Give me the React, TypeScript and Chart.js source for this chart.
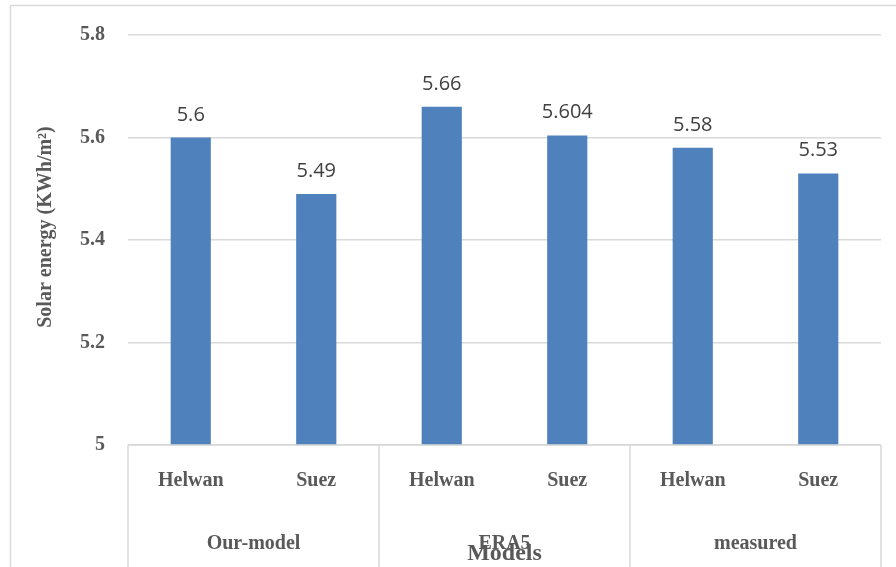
import React, { useEffect, useRef } from 'react';
import { Chart, registerables } from 'chart.js';
Chart.register(...registerables);

const categories = ['Helwan', 'Suez', 'Helwan', 'Suez', 'Helwan', 'Suez'];
const groups = ['Our-model', 'ERA5', 'measured'];
const values = [5.6, 5.49, 5.66, 5.604, 5.58, 5.53];
const valueLabels = ['5.6', '5.49', '5.66', '5.604', '5.58', '5.53'];
const yMin = 5;
const yMax = 5.8;
const yStep = 0.2;
const yTitle = 'Solar energy (KWh/m²)';
const xTitle = 'Models';

const GRAY = '#d9d9d9';
const TEXT = '#595959';
const SERIF = '"Liberation Serif", "Times New Roman", serif';

const overlay = {
  id: 'overlay',
  afterDraw(chart: any) {
    const ctx = chart.ctx as CanvasRenderingContext2D;
    const area = chart.chartArea;
    const xs = chart.scales.x;
    const H = chart.height;
    ctx.save();
    // outer frame
    ctx.strokeStyle = GRAY;
    ctx.lineWidth = 1.5;
    ctx.beginPath();
    ctx.moveTo(10.5, H + 5);
    ctx.lineTo(10.5, 5.5);
    ctx.lineTo(chart.width + 5, 5.5);
    ctx.stroke();

    // axis line and group separators
    ctx.beginPath();
    ctx.moveTo(area.left, area.bottom);
    ctx.lineTo(area.right, area.bottom);
    const n = categories.length;
    const per = n / groups.length;
    const bounds: number[] = [];
    for (let g = 0; g <= groups.length; g++) {
      let x: number;
      if (g === 0) x = area.left;
      else if (g === groups.length) x = area.right;
      else x = (xs.getPixelForValue(g * per - 1) + xs.getPixelForValue(g * per)) / 2;
      bounds.push(x);
      ctx.moveTo(x, area.bottom);
      ctx.lineTo(x, H + 5);
    }
    ctx.stroke();

    // category labels
    ctx.fillStyle = TEXT;
    ctx.textAlign = 'center';
    ctx.textBaseline = 'middle';
    ctx.font = `bold 20px ${SERIF}`;
    categories.forEach((c, i) => {
      ctx.fillText(c, xs.getPixelForValue(i), area.bottom + 36);
    });
    // group labels
    groups.forEach((g, i) => {
      ctx.fillText(g, (bounds[i] + bounds[i + 1]) / 2, area.bottom + 99);
    });
    // x title
    ctx.font = `bold 24px ${SERIF}`;
    ctx.fillText(xTitle, (area.left + area.right) / 2, area.bottom + 109);

    // y title
    ctx.save();
    ctx.translate(46, 227);
    ctx.rotate(-Math.PI / 2);
    ctx.font = `bold 20px ${SERIF}`;
    ctx.fillText(yTitle, 0, 0);
    ctx.restore();

    // data labels
    const meta = chart.getDatasetMeta(0);
    ctx.fillStyle = '#404040';
    ctx.font = '20px "Open Sans", sans-serif';
    ctx.textBaseline = 'alphabetic';
    meta.data.forEach((el: any, i: number) => {
      ctx.fillText(valueLabels[i], el.x, el.y - 17);
    });
    ctx.restore();
  },
};

export default function App() {
  const ref = useRef<HTMLCanvasElement>(null);
  useEffect(() => {
    if (!ref.current) return;
    const chart = new Chart(ref.current, {
      type: 'bar',
      data: {
        labels: categories,
        datasets: [
          {
            data: values,
            backgroundColor: '#4f81bd',
            barPercentage: 0.64,
            categoryPercentage: 0.5,
          },
        ],
      },
      options: {
        animation: false,
        responsive: true,
        maintainAspectRatio: false,
        layout: { padding: { top: 34, right: 15, bottom: 122, left: 0 } },
        plugins: { legend: { display: false }, tooltip: { enabled: false } },
        scales: {
          x: { display: false },
          y: {
            min: yMin,
            max: yMax,
            afterFit: (s: any) => {
              s.width = 128;
            },
            border: { display: false },
            grid: { color: GRAY, lineWidth: 1.5, drawTicks: false },
            ticks: {
              stepSize: yStep,
              padding: 23,
              color: TEXT,
              font: { family: SERIF, weight: 'bold', size: 20 },
              callback: (v: any) => String(Number(Number(v).toFixed(1))),
            },
          },
        },
      },
      plugins: [overlay],
    });
    return () => chart.destroy();
  }, []);
  return (
    <div style={{ position: 'absolute', left: 0, top: 0, width: 896, height: 567, background: '#fff' }}>
      <canvas ref={ref} />
    </div>
  );
}
